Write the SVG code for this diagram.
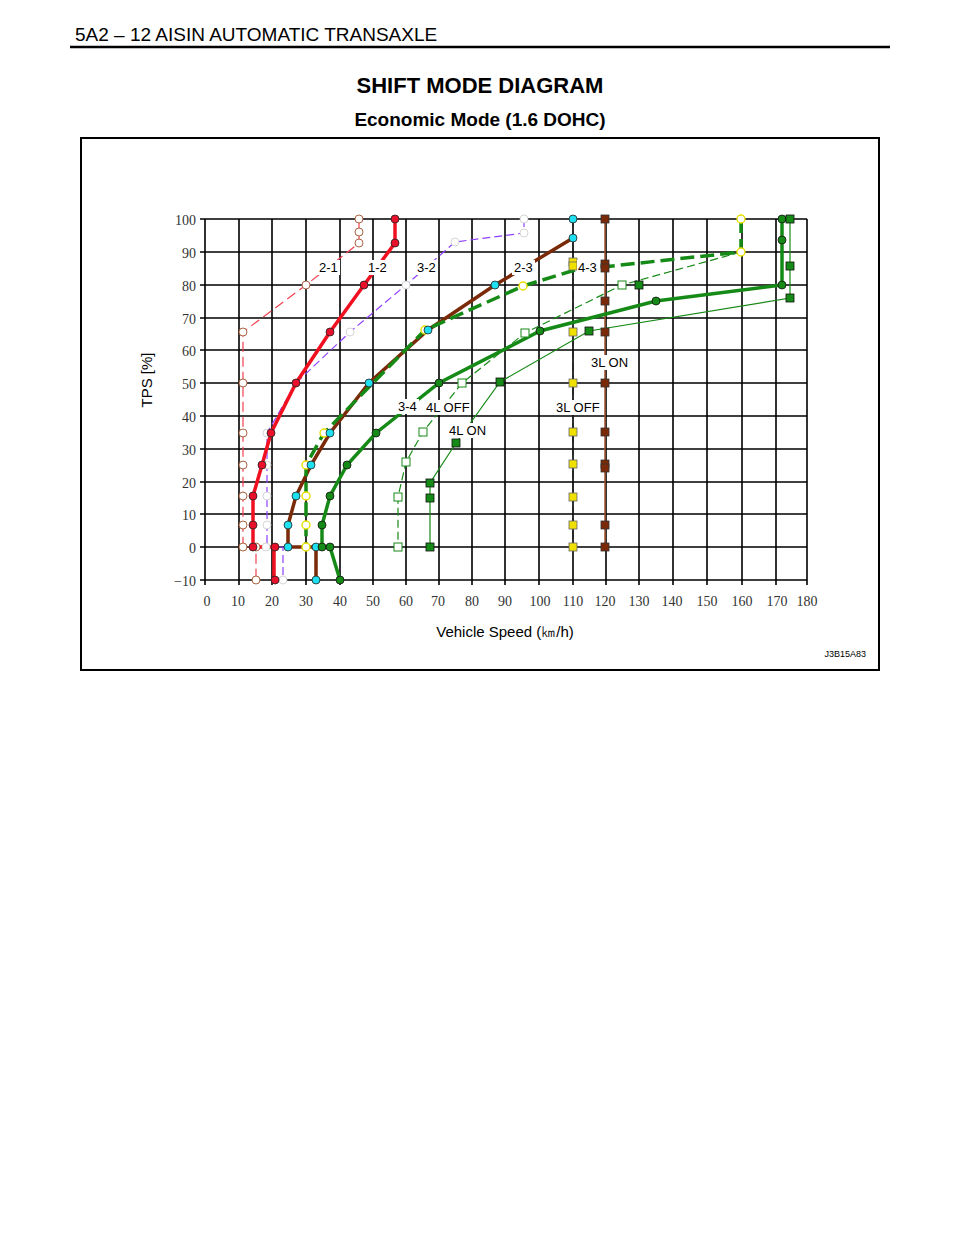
<svg xmlns="http://www.w3.org/2000/svg" width="960" height="1241" viewBox="0 0 960 1241">
<style>
.t{font-family:"Liberation Sans",Arial,sans-serif;fill:#000}
.s{font-family:"Liberation Serif","DejaVu Serif",serif;font-size:14px;fill:#333}
.g{stroke:#000;stroke-width:1.6;fill:none}
.lb{font-family:"Liberation Sans",Arial,sans-serif;font-size:13px;fill:#000}
.bg{fill:#fff;stroke:none}
</style>
<defs>
<circle id="rc" r="4" fill="#e8102a" stroke="#222" stroke-width="0.8"/>
<circle id="pc" r="4" fill="#fff" stroke="#a0522d" stroke-width="0.9"/>
<circle id="wc" r="4" fill="#fff" stroke="#ccc" stroke-width="0.8"/>
<circle id="cc" r="4" fill="#1ee0f0" stroke="#222" stroke-width="0.8"/>
<circle id="yc" r="4" fill="#fff" stroke="#e8e000" stroke-width="1.4"/>
<circle id="gc" r="4" fill="#168a16" stroke="#111" stroke-width="0.8"/>
<rect id="hs" x="-4" y="-4" width="8" height="8" fill="#fff" stroke="#168a16" stroke-width="1"/>
<rect id="gs" x="-4" y="-4" width="8" height="8" fill="#168a16" stroke="#111" stroke-width="0.8"/>
<rect id="ys" x="-4" y="-4" width="8" height="8" fill="#f0e000" stroke="#666" stroke-width="0.8"/>
<rect id="bs" x="-4" y="-4" width="8" height="8" fill="#7a2a08" stroke="#333" stroke-width="0.8"/>
</defs>
<rect width="960" height="1241" fill="#fff"/>
<g id="header">
<text class="t" x="75" y="41" font-size="19">5A2 – 12 AISIN AUTOMATIC TRANSAXLE</text>
<line x1="70" y1="47" x2="890" y2="47" stroke="#000" stroke-width="2.5"/>
<text class="t" x="480" y="93" font-size="22" font-weight="bold" text-anchor="middle">SHIFT MODE DIAGRAM</text>
<text class="t" x="480" y="126" font-size="19" font-weight="bold" text-anchor="middle">Economic Mode (1.6 DOHC)</text>
</g>
<rect x="81" y="138" width="798" height="532" fill="none" stroke="#000" stroke-width="2"/>
<g id="grid" class="g">
<path d="M205 219V585M239 219V585M272 219V585M306 219V585M340 219V585M373 219V585M406 219V585M439 219V585M472 219V585M505 219V585M539 219V585M573 219V585M606 219V585M639 219V585M673 219V585M707 219V585M742 219V585M776 219V585M807 219V585"/>
<path d="M200 219H807M200 252H807M200 285H807M200 318H807M200 350H807M200 383H807M200 416H807M200 449H807M200 482H807M200 514H807M200 547H807M200 580H807"/>
</g>
<g id="axes" class="s">
<g text-anchor="end">
<text x="196" y="225">100</text><text x="196" y="258">90</text><text x="196" y="291">80</text><text x="196" y="324">70</text><text x="196" y="356">60</text><text x="196" y="389">50</text><text x="196" y="422">40</text><text x="196" y="455">30</text><text x="196" y="488">20</text><text x="196" y="520">10</text><text x="196" y="553">0</text><text x="196" y="586">−10</text>
</g>
<g text-anchor="middle">
<text x="207" y="606">0</text><text x="238" y="606">10</text><text x="272" y="606">20</text><text x="306" y="606">30</text><text x="340" y="606">40</text><text x="373" y="606">50</text><text x="406" y="606">60</text><text x="438" y="606">70</text><text x="472" y="606">80</text><text x="505" y="606">90</text><text x="540" y="606">100</text><text x="573" y="606">110</text><text x="605" y="606">120</text><text x="639" y="606">130</text><text x="672" y="606">140</text><text x="707" y="606">150</text><text x="742" y="606">160</text><text x="777" y="606">170</text><text x="807" y="606">180</text>
</g>
<text class="t" x="505" y="637" font-size="15" text-anchor="middle">Vehicle Speed (㎞/h)</text>
<text class="t" x="152" y="380" font-size="15" text-anchor="middle" transform="rotate(-90 152 380)">TPS [%]</text>
<text class="t" x="866" y="657" font-size="9" text-anchor="end">J3B15A83</text>
</g>
<g id="connectors" fill="none">
<polyline points="605,219 605,547" stroke="#a0522d" stroke-width="1.5"/>
<polyline points="573,219 573,547" stroke="#222" stroke-width="1.2" stroke-dasharray="8,4"/>
<polyline points="359,219 359,243 306,285 243,332 243,547 256,547 256,580" stroke="#f04050" stroke-width="1.2" stroke-dasharray="10,5"/>
<polyline points="524,219 524,233 455,242 406,285 350,332 296,383 267,433 267,547 283,547 283,580" stroke="#9040ff" stroke-width="1.2" stroke-dasharray="8,4"/>
<polyline points="395,219 395,243 364,285 330,332 296,383 271,433 262,465 253,496 253,547 274,547 274,580" stroke="#f01020" stroke-width="3.5"/>
<polyline points="573,238 495,285 428,330 369,383 330,433 311,465 296,496 288,525 288,547 316,547 316,580" stroke="#7a2a08" stroke-width="3.5"/>
<polyline points="741,219 741,252 575,270 523,286 425,330 324,433 306,465 306,547" stroke="#168a16" stroke-width="3.5" stroke-dasharray="14,6"/>
<polyline points="782,219 782,285 656,301 540,331 439,383 376,433 347,465 330,496 322,525 322,547 330,547 340,580" stroke="#168a16" stroke-width="3.5"/>
<polyline points="741,252 622,285 525,333 462,383 423,432 406,462 398,497 398,547" stroke="#168a16" stroke-width="1.2" stroke-dasharray="8,4"/>
<polyline points="790,219 790,298 589,331 500,382 456,443 430,483 430,547" stroke="#168a16" stroke-width="1.2"/>
</g>
<g id="markers">
<g><use href="#bs" x="605" y="219"/><use href="#bs" x="605" y="264"/><use href="#bs" x="605" y="268"/><use href="#bs" x="605" y="301"/><use href="#bs" x="605" y="332"/><use href="#bs" x="605" y="383"/><use href="#bs" x="605" y="432"/><use href="#bs" x="605" y="464"/><use href="#bs" x="605" y="468"/><use href="#bs" x="605" y="525"/><use href="#bs" x="605" y="547"/></g>
<g><use href="#ys" x="573" y="262"/><use href="#ys" x="573" y="266"/><use href="#ys" x="573" y="332"/><use href="#ys" x="573" y="383"/><use href="#ys" x="573" y="432"/><use href="#ys" x="573" y="464"/><use href="#ys" x="573" y="497"/><use href="#ys" x="573" y="525"/><use href="#ys" x="573" y="547"/></g>
<g><use href="#pc" x="359" y="219"/><use href="#pc" x="359" y="232"/><use href="#pc" x="359" y="243"/><use href="#pc" x="306" y="285"/><use href="#pc" x="243" y="332"/><use href="#pc" x="243" y="383"/><use href="#pc" x="243" y="433"/><use href="#pc" x="243" y="465"/><use href="#pc" x="243" y="496"/><use href="#pc" x="243" y="525"/><use href="#pc" x="243" y="547"/><use href="#pc" x="256" y="547"/><use href="#pc" x="256" y="580"/></g>
<g><use href="#wc" x="524" y="219"/><use href="#wc" x="524" y="233"/><use href="#wc" x="455" y="242"/><use href="#wc" x="406" y="285"/><use href="#wc" x="350" y="332"/><use href="#wc" x="267" y="433"/><use href="#wc" x="267" y="465"/><use href="#wc" x="267" y="496"/><use href="#wc" x="267" y="525"/><use href="#wc" x="266" y="547"/><use href="#wc" x="283" y="580"/></g>
<g><use href="#rc" x="395" y="219"/><use href="#rc" x="395" y="243"/><use href="#rc" x="364" y="285"/><use href="#rc" x="330" y="332"/><use href="#rc" x="296" y="383"/><use href="#rc" x="271" y="433"/><use href="#rc" x="262" y="465"/><use href="#rc" x="253" y="496"/><use href="#rc" x="253" y="525"/><use href="#rc" x="253" y="547"/><use href="#rc" x="275" y="547"/><use href="#rc" x="275" y="580"/></g>
<g><use href="#yc" x="741" y="219"/><use href="#yc" x="741" y="252"/><use href="#yc" x="523" y="286"/><use href="#yc" x="425" y="330"/><use href="#yc" x="324" y="433"/><use href="#yc" x="306" y="465"/><use href="#yc" x="306" y="496"/><use href="#yc" x="306" y="525"/><use href="#yc" x="306" y="547"/></g>
<g><use href="#cc" x="573" y="219"/><use href="#cc" x="573" y="238"/><use href="#cc" x="495" y="285"/><use href="#cc" x="428" y="330"/><use href="#cc" x="369" y="383"/><use href="#cc" x="330" y="433"/><use href="#cc" x="311" y="465"/><use href="#cc" x="296" y="496"/><use href="#cc" x="288" y="525"/><use href="#cc" x="288" y="547"/><use href="#cc" x="316" y="547"/><use href="#cc" x="316" y="580"/></g>
<g><use href="#gc" x="782" y="219"/><use href="#gc" x="782" y="240"/><use href="#gc" x="782" y="285"/><use href="#gc" x="656" y="301"/><use href="#gc" x="540" y="331"/><use href="#gc" x="439" y="383"/><use href="#gc" x="376" y="433"/><use href="#gc" x="347" y="465"/><use href="#gc" x="330" y="496"/><use href="#gc" x="322" y="525"/><use href="#gc" x="322" y="547"/><use href="#gc" x="330" y="547"/><use href="#gc" x="340" y="580"/></g>
<g><use href="#hs" x="622" y="285"/><use href="#hs" x="525" y="333"/><use href="#hs" x="462" y="383"/><use href="#hs" x="423" y="432"/><use href="#hs" x="406" y="462"/><use href="#hs" x="398" y="497"/><use href="#hs" x="398" y="547"/></g>
<g><use href="#gs" x="790" y="219"/><use href="#gs" x="790" y="266"/><use href="#gs" x="790" y="298"/><use href="#gs" x="639" y="285"/><use href="#gs" x="589" y="331"/><use href="#gs" x="500" y="382"/><use href="#gs" x="456" y="443"/><use href="#gs" x="430" y="483"/><use href="#gs" x="430" y="498"/><use href="#gs" x="430" y="547"/></g>
</g>
<g id="labels">
<g class="bg">
<rect x="317" y="260" width="23" height="15"/><rect x="366" y="260" width="23" height="15"/><rect x="415" y="260" width="23" height="15"/><rect x="512" y="260" width="23" height="15"/><rect x="577" y="260" width="22" height="15"/>
<rect x="589" y="355" width="41" height="15"/><rect x="396" y="399" width="23" height="15"/><rect x="424" y="400" width="45" height="15"/><rect x="554" y="400" width="47" height="15"/><rect x="447" y="423" width="40" height="15"/>
</g>
<g class="lb">
<text x="319" y="272">2-1</text><text x="368" y="272">1-2</text><text x="417" y="272">3-2</text><text x="514" y="272">2-3</text><text x="578" y="272">4-3</text>
<text x="591" y="367">3L ON</text><text x="398" y="411">3-4</text><text x="426" y="412">4L OFF</text><text x="556" y="412">3L OFF</text><text x="449" y="435">4L ON</text>
</g>
</g>
</svg>
